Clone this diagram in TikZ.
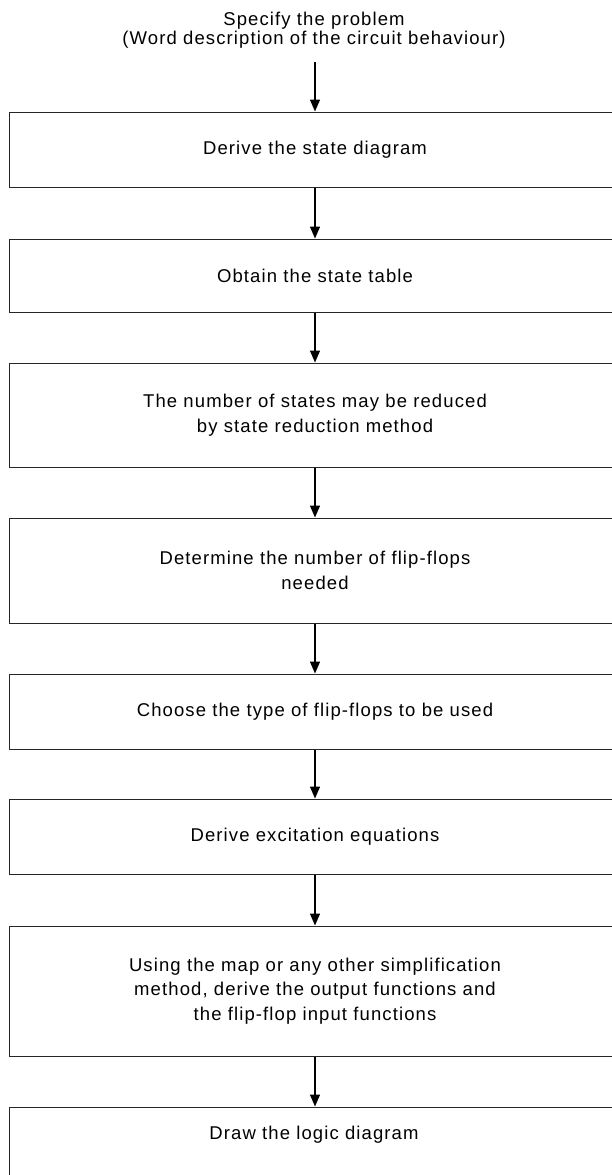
\documentclass[tikz,border=0pt]{standalone}
\usepackage{fontspec}
\setmainfont{Liberation Sans}[LetterSpace=6]
\usetikzlibrary{arrows.meta}

\begin{document}
\begin{tikzpicture}[x=1pt,y=-1pt,
  stepbox/.style={draw=black!85, line width=1pt, rectangle, minimum width=611pt,
    inner sep=0pt, align=center, font=\fontsize{18.5}{24.5}\selectfont},
  steptext/.style={inner sep=0pt, align=center, font=\fontsize{18.5}{24.5}\selectfont},
  flow/.style={-{Triangle[length=12pt,width=10pt]}, line width=1.4pt}]
\useasboundingbox (0,0) rectangle (612,1175);

% starting statement
\node[steptext, font=\fontsize{18.5}{19.5}\selectfont] (title) at (314,30)
  {Specify the problem\\(Word description of the circuit behaviour)};
\coordinate (start) at (315,62);

% design steps
\node[stepbox, minimum height=75pt]  (b1) at (315,149.5) {Derive the state diagram};
\node[stepbox, minimum height=73pt]  (b2) at (315,275.5) {Obtain the state table};
\node[stepbox, minimum height=104pt] (b3) at (315,415)   {The number of states may be reduced\\by state reduction method};
\node[stepbox, minimum height=105pt] (b4) at (315,570.5) {Determine the number of flip-flops\\needed};
\node[stepbox, minimum height=75pt]  (b5) at (315,711.5) {Choose the type of flip-flops to be used};
\node[stepbox, minimum height=75pt]  (b6) at (315,836.5) {Derive excitation equations};
\node[stepbox, minimum height=130pt] (b7) at (315,991)   {Using the map or any other simplification\\method, derive the output functions and\\the flip-flop input functions};
\node[stepbox, minimum height=80pt]  (b8) at (315,1147)  {};
\node[steptext] (t8) at (314,1135) {Draw the logic diagram};

% connectors
\draw[flow] (start) -- (b1.north);
\draw[flow] (b1) -- (b2);
\draw[flow] (b2) -- (b3);
\draw[flow] (b3) -- (b4);
\draw[flow] (b4) -- (b5);
\draw[flow] (b5) -- (b6);
\draw[flow] (b6) -- (b7);
\draw[flow] (b7) -- (b8);
\end{tikzpicture}
\end{document}
